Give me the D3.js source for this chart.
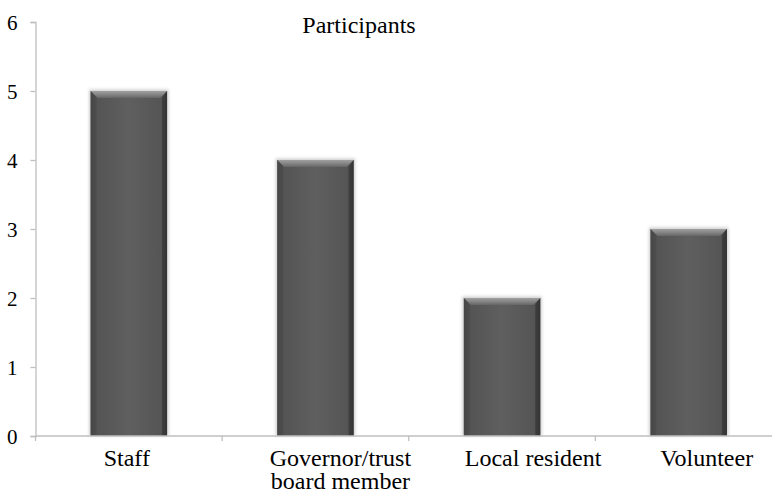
<!DOCTYPE html>
<html>
<head>
<meta charset="utf-8">
<script src="https://cdn.jsdelivr.net/npm/d3@7"></script>
<style>
  body { margin: 0; background: #fff; }
  text { font-family: "Times New Roman", "Liberation Serif", Tinos, "DejaVu Serif", serif; fill: #000; }
</style>
</head>
<body>
<script>
// data
const categories = ["Staff", "Governor/trust board member", "Local resident", "Volunteer"];
const participants = [5, 4, 2, 3];
const yTicks = [0, 1, 2, 3, 4, 5, 6];

const width = 772, height = 492;
const x0 = 35.5, x1 = 782, yTop = 22, yBottom = 436;
const labelSize = 24, tickSize = 21;
// label nudges (Excel puts the text boxes a bit off-centre)
const labelShift = [-2, 25, 31, 18];
const serif = "'Times New Roman', 'Liberation Serif', Tinos, 'DejaVu Serif', serif";

const svg = d3.select("body").append("svg")
    .attr("width", width).attr("height", height);

const defs = svg.append("defs");
const bodyGrad = defs.append("linearGradient").attr("id", "barBody")
    .attr("x1", "0").attr("x2", "1").attr("y1", "0").attr("y2", "0");
bodyGrad.append("stop").attr("offset", "0").attr("stop-color", "#4a4a4a");
bodyGrad.append("stop").attr("offset", "0.08").attr("stop-color", "#545454");
bodyGrad.append("stop").attr("offset", "0.5").attr("stop-color", "#5f5f5f");
bodyGrad.append("stop").attr("offset", "0.92").attr("stop-color", "#555");
bodyGrad.append("stop").attr("offset", "1").attr("stop-color", "#3c3c3c");

const topGrad = defs.append("linearGradient").attr("id", "barTop")
    .attr("x1", "0").attr("x2", "0").attr("y1", "0").attr("y2", "1");
topGrad.append("stop").attr("offset", "0").attr("stop-color", "#a0a0a0");
topGrad.append("stop").attr("offset", "0.5").attr("stop-color", "#858585");
topGrad.append("stop").attr("offset", "1").attr("stop-color", "#666");

const blur = defs.append("filter").attr("id", "shadow")
    .attr("x", "-20%").attr("y", "-20%").attr("width", "140%").attr("height", "140%");
blur.append("feGaussianBlur").attr("stdDeviation", 1.5);

const x = d3.scaleBand().domain(categories).range([x0, x1]).paddingInner(0.59).paddingOuter(0.295);
const xTicks = d3.scaleBand().domain(categories).range([x0, x1]);
const y = d3.scaleLinear().domain([0, 6]).range([yBottom, yTop]);

// y axis
const yAxis = svg.append("g").attr("transform", `translate(${x0},0)`)
    .call(d3.axisLeft(y).tickValues(yTicks).tickSize(5).tickPadding(13).tickFormat(d3.format("d")));
yAxis.attr("font-family", null);
yAxis.select(".domain").attr("stroke", "#bfbfbf").attr("stroke-width", 1.3);
yAxis.selectAll(".tick line").attr("stroke", "#bfbfbf").attr("stroke-width", 1.3);
yAxis.selectAll(".tick text")
    .attr("dy", "0.34em")
    .style("font-family", serif).style("font-size", tickSize + "px")
    .attr("fill", "#000");

// bars
const bars = svg.append("g").selectAll("g").data(categories).enter().append("g");
bars.append("rect")
    .attr("x", d => x(d) - 1.5)
    .attr("y", (d, i) => y(participants[i]) - 1.5)
    .attr("width", x.bandwidth() + 3)
    .attr("height", (d, i) => yBottom - y(participants[i]) + 1.5)
    .attr("fill", "#cfcfcf")
    .attr("filter", "url(#shadow)");
bars.append("rect")
    .attr("x", d => x(d))
    .attr("y", (d, i) => y(participants[i]))
    .attr("width", x.bandwidth())
    .attr("height", (d, i) => yBottom - y(participants[i]))
    .attr("fill", "url(#barBody)");
bars.append("path")
    .attr("d", (d, i) => {
        const l = x(d), r = x(d) + x.bandwidth(), t = y(participants[i]), b = 7;
        return `M${l},${t}L${r},${t}L${r - b},${t + b}L${l + b},${t + b}Z`;
    })
    .attr("fill", "url(#barTop)");
bars.append("path")
    .attr("d", (d, i) => {
        const l = x(d), t = y(participants[i]), b = 6;
        return `M${l},${t}L${l + b},${t + b}L${l + b},${yBottom}L${l},${yBottom}Z`;
    })
    .attr("fill", "#3a3a3a").attr("opacity", 0.25);
bars.append("path")
    .attr("d", (d, i) => {
        const r = x(d) + x.bandwidth(), t = y(participants[i]), b = 5;
        return `M${r},${t}L${r - b},${t + 7}L${r - b},${yBottom}L${r},${yBottom}Z`;
    })
    .attr("fill", "#2a2a2a").attr("opacity", 0.45);

// x axis
const xg = svg.append("g");
xg.append("line").attr("x1", x0).attr("x2", width).attr("y1", yBottom).attr("y2", yBottom)
    .attr("stroke", "#bfbfbf").attr("stroke-width", 1.3);
xg.selectAll(".tk").data(categories).enter().append("line")
    .attr("x1", d => xTicks(d)).attr("x2", d => xTicks(d))
    .attr("y1", yBottom).attr("y2", yBottom + 5)
    .attr("stroke", "#bfbfbf").attr("stroke-width", 1.3);

// category labels, wrapped like the original
const wrapped = { "Governor/trust board member": ["Governor/trust", "board member"] };
const labels = xg.selectAll(".lab").data(categories).enter().append("text")
    .attr("text-anchor", "middle")
    .style("font-family", serif)
    .style("font-size", labelSize + "px")
    .attr("transform", (d, i) =>
        `translate(${xTicks(d) + xTicks.bandwidth() / 2 + labelShift[i]},466)`);
labels.selectAll("tspan").data(d => wrapped[d] || [d]).enter().append("tspan")
    .attr("x", 0).attr("dy", (d, i) => i ? 22.5 : 0).text(d => d);

// title
svg.append("text").attr("x", 359).attr("y", 33)
    .attr("text-anchor", "middle")
    .style("font-family", serif)
    .style("font-size", labelSize + "px").text("Participants");
</script>
</body>
</html>
